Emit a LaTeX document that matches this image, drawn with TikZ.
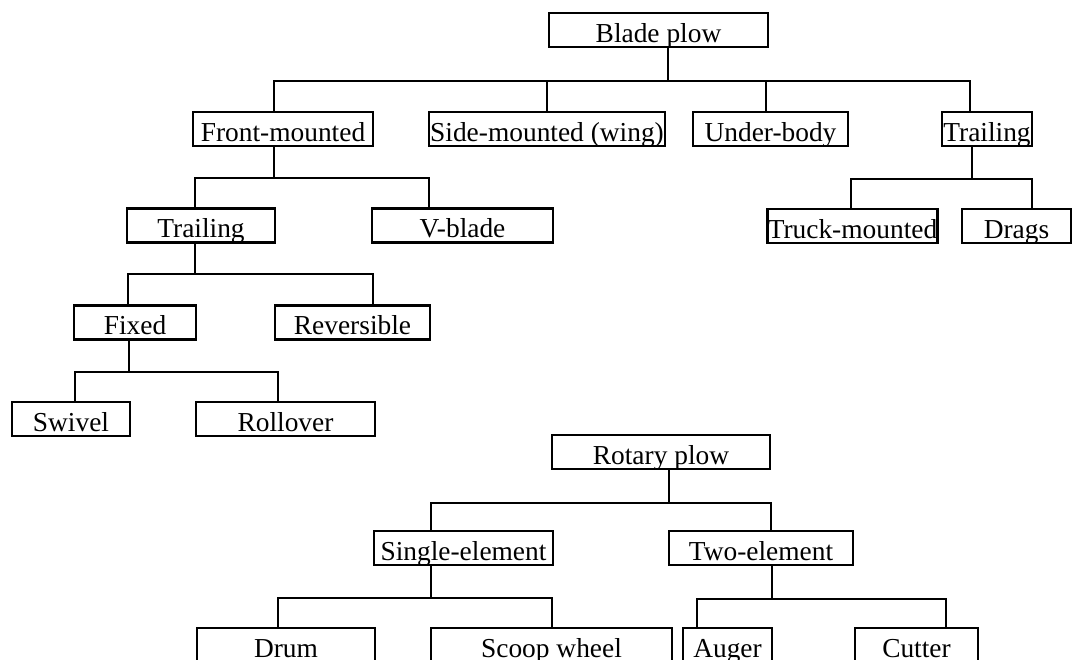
\documentclass[tikz,border=0pt]{standalone}
\usepackage{fontspec}
\setmainfont{Liberation Serif}
\usetikzlibrary{calc}

\begin{document}
\begin{tikzpicture}[
  x=0.5pt, y=-0.5pt,
  kind/.style={draw, line width=1.3pt, inner sep=0pt,
               text height=14.5pt, text depth=2.5pt,
               font=\fontsize{13.7}{16}\selectfont},
  link/.style={line width=1.1pt}
]
\path[use as bounding box] (0,0) rectangle (1075,659);
\clip (0,0) rectangle (1075,659);

\node[kind, minimum width=109.5pt] (blade) at (658.5,30) {Blade plow};
\node[kind, minimum width=90pt] (front) at (283,129) {Front-mounted};
\node[kind, minimum width=118pt] (side) at (547,129) {Side-mounted (wing)};
\node[kind, minimum width=77.5pt] (under) at (770.5,129) {Under-body};
\node[kind, minimum width=45pt] (trailR) at (987,129) {Trailing};
\node[kind, minimum width=74pt] (trailL) at (201,225.5) {Trailing};
\node[kind, minimum width=90.5pt] (vblade) at (462.5,225.5) {V-blade};
\node[kind, minimum width=83.5pt] (truck) at (852.5,226) {Truck-mounted};
\node[kind, minimum width=54.5pt] (drags) at (1016.5,226) {Drags};
\node[kind, minimum width=61pt] (fixed) at (135,322.5) {Fixed};
\node[kind, minimum width=77.5pt] (revers) at (352.5,322.5) {Reversible};
\node[kind, minimum width=59pt] (swivel) at (71,419) {Swivel};
\node[kind, minimum width=89.5pt] (rollover) at (285.5,419) {Rollover};

\node[kind, minimum width=109pt] (rotary) at (661,452) {Rotary plow};
\node[kind, minimum width=89.5pt] (single) at (463.5,548) {Single-element};
\node[kind, minimum width=92pt] (two) at (761,548) {Two-element};
\node[kind, minimum width=89pt] (drum) at (286,645) {Drum};
\node[kind, minimum width=120.5pt] (scoop) at (551.5,645) {Scoop wheel};
\node[kind, minimum width=44.5pt] (auger) at (727.5,645) {Auger};
\node[kind, minimum width=61.5pt] (cutter) at (916.5,645) {Cutter};

\coordinate (bladeBar) at ($(blade.south)+(9.5,33)$);
\coordinate (frontBar) at ($(front.south)+(-9,31)$);
\coordinate (trailRBar) at ($(trailR.south)+(-15,32)$);
\coordinate (trailLBar) at ($(trailL.south)+(-6,30.5)$);
\coordinate (fixedBar) at ($(fixed.south)+(-6,31)$);
\coordinate (rotaryBar) at ($(rotary.south)+(8,33)$);
\coordinate (singleBar) at ($(single.south)+(-32.5,32)$);
\coordinate (twoBar) at ($(two.south)+(11,33)$);

\draw[link] (blade.south -| bladeBar) -- (bladeBar);
\draw[link] ($(front.north)+(-9,0)$) |- (bladeBar);
\draw[link] (side.north) |- (bladeBar);
\draw[link] ($(under.north)+(-4.5,0)$) |- (bladeBar);
\draw[link] ($(trailR.north)+(-17,0)$) |- (bladeBar);

\draw[link] (front.south -| frontBar) -- (frontBar);
\draw[link] ($(trailL.north)+(-6,0)$) |- (frontBar);
\draw[link] ($(vblade.north)+(-33.5,0)$) |- (frontBar);

\draw[link] (trailR.south -| trailRBar) -- (trailRBar);
\draw[link] ($(truck.north)+(-1.5,0)$) |- (trailRBar);
\draw[link] ($(drags.north)+(15.5,0)$) |- (trailRBar);

\draw[link] (trailL.south -| trailLBar) -- (trailLBar);
\draw[link] ($(fixed.north)+(-7,0)$) |- (trailLBar);
\draw[link] ($(revers.north)+(20.5,0)$) |- (trailLBar);

\draw[link] (fixed.south -| fixedBar) -- (fixedBar);
\draw[link] ($(swivel.north)+(4,0)$) |- (fixedBar);
\draw[link] ($(rollover.north)+(-7.5,0)$) |- (fixedBar);

\draw[link] (rotary.south -| rotaryBar) -- (rotaryBar);
\draw[link] ($(single.north)+(-32.5,0)$) |- (rotaryBar);
\draw[link] ($(two.north)+(10,0)$) |- (rotaryBar);

\draw[link] (single.south -| singleBar) -- (singleBar);
\draw[link] ($(drum.north)+(-8,0)$) |- (singleBar);
\draw[link] ($(scoop.north)+(0.5,0)$) |- (singleBar);

\draw[link] (two.south -| twoBar) -- (twoBar);
\draw[link] ($(auger.north)+(-30.5,0)$) |- (twoBar);
\draw[link] ($(cutter.north)+(29.5,0)$) |- (twoBar);
\end{tikzpicture}
\end{document}
